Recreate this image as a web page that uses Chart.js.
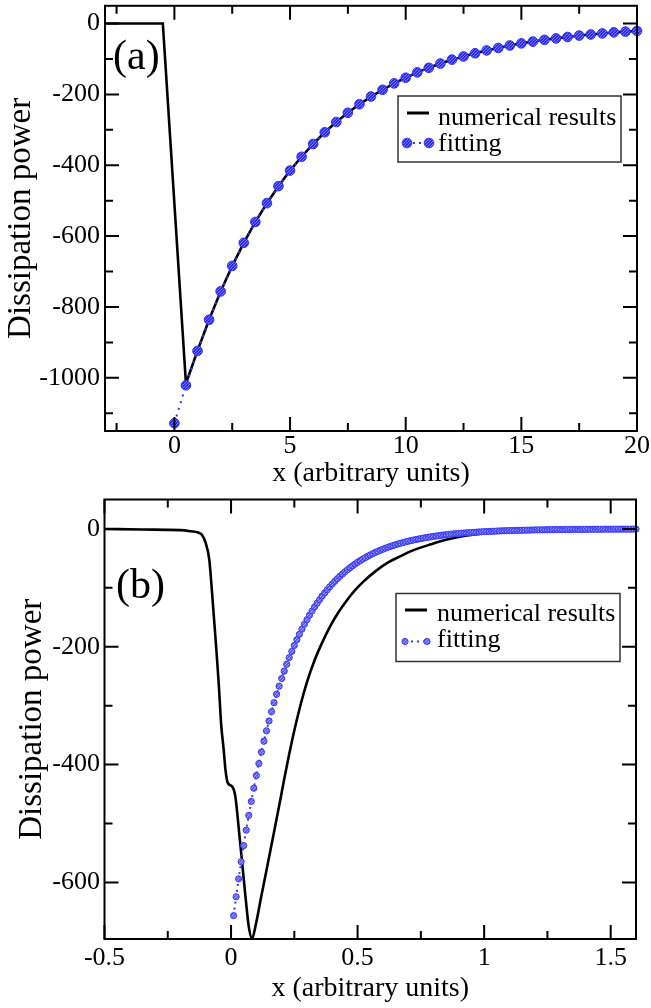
<!DOCTYPE html>
<html>
<head>
<meta charset="utf-8">
<script src="https://cdn.jsdelivr.net/npm/chart.js@4.4.1/dist/chart.umd.min.js"></script>
<style>
html,body{margin:0;padding:0;background:#fff;}
body{width:651px;height:1008px;position:relative;overflow:hidden;}
#wa{position:absolute;left:0;top:0;width:651px;height:490px;}
#wb{position:absolute;left:0;top:490px;width:651px;height:518px;}
</style>
</head>
<body>
<div id="wa"><canvas id="ca"></canvas></div>
<div id="wb"><canvas id="cb"></canvas></div>
<script>
// ---------- labels ----------
const numLabel = 'numerical results';
const fitLabel = 'fitting';
const xTitle = 'x (arbitrary units)';
const yTitle = 'Dissipation power';

// ---------- panel (a) ----------
const xTicksA = [0, 5, 10, 15, 20];
const xMinorA = [-2.5, 2.5, 7.5, 12.5, 17.5];
const yTicksA = [-1000, -800, -600, -400, -200, 0];
const yMinorA = [-1100, -900, -700, -500, -300, -100];

const xNumA = [-3, -0.5, 0.5, 1, 1.5, 2, 2.5, 3, 3.5, 4, 4.5, 5, 5.5, 6, 6.5, 7, 7.5, 8, 8.5, 9, 9.5, 10,
  10.5, 11, 11.5, 12, 12.5, 13, 13.5, 14, 14.5, 15, 15.5, 16, 16.5, 17, 17.5, 18, 18.5, 19, 19.5, 20];
const yNumA = [0, 0, -1016, -923, -836, -756, -684, -619, -560, -507, -459, -415, -376, -340, -307, -278, -252, -228, -206, -187, -169, -153,
  -138, -125, -113, -102, -93, -84, -76, -69, -62, -56, -51, -46, -42, -38, -34, -31, -28, -25, -23, -21];

const xFitA = [0, 0.5, 1, 1.5, 2, 2.5, 3, 3.5, 4, 4.5, 5, 5.5, 6, 6.5, 7, 7.5, 8, 8.5, 9, 9.5, 10,
  10.5, 11, 11.5, 12, 12.5, 13, 13.5, 14, 14.5, 15, 15.5, 16, 16.5, 17, 17.5, 18, 18.5, 19, 19.5, 20];
const yFitA = [-1128, -1021, -924, -836, -756, -684, -619, -560, -507, -459, -415, -376, -340, -307, -278, -252, -228, -206, -187, -169, -153,
  -138, -125, -113, -102, -93, -84, -76, -69, -62, -56, -51, -46, -42, -38, -34, -31, -28, -25, -23, -21];

// ---------- panel (b) ----------
const xTicksB = [-0.5, 0, 0.5, 1, 1.5];
const xMinorB = [-0.25, 0.25, 0.75, 1.25];
const yTicksB = [-600, -400, -200, 0];
const yMinorB = [-500, -300, -100];

const xNumB = [-0.5, -0.35, -0.2, -0.158, -0.13, -0.115, -0.1, -0.086, -0.077, -0.067, -0.057, -0.048, -0.039, -0.029, -0.022, -0.013,
  0.004, 0.017, 0.031, 0.044, 0.057, 0.07, 0.083, 0.099, 0.118, 0.143, 0.165, 0.19, 0.21, 0.228, 0.25, 0.275, 0.3, 0.33, 0.36,
  0.392, 0.425, 0.458, 0.49, 0.524, 0.57, 0.616, 0.67, 0.721, 0.79, 0.853, 0.92, 0.985, 1.05, 1.15, 1.3, 1.45, 1.6];
const yNumB = [0, -1, -2, -4, -6, -10, -24, -52, -97, -154, -211, -267, -332, -375, -409, -431,
  -437, -454, -511, -567, -624, -675, -695, -669, -627, -573, -525, -470, -425, -386, -342, -298, -260, -223, -193,
  -165, -141, -121, -104, -89, -72, -58, -46, -36, -26, -18, -12, -8, -5, -3, -1.5, -0.8, -0.5];

const xFitB = [0.01,0.02,0.03,0.04,0.05,0.06,0.07,0.08,0.09,0.10,0.11,0.12,0.13,0.14,0.15,0.16,0.17,0.18,0.19,0.20,
  0.21,0.22,0.23,0.24,0.25,0.26,0.27,0.28,0.29,0.30,0.31,0.32,0.33,0.34,0.35,0.36,0.37,0.38,0.39,0.40,
  0.41,0.42,0.43,0.44,0.45,0.46,0.47,0.48,0.49,0.50,0.51,0.52,0.53,0.54,0.55,0.56,0.57,0.58,0.59,0.60,
  0.61,0.62,0.63,0.64,0.65,0.66,0.67,0.68,0.69,0.70,0.71,0.72,0.73,0.74,0.75,0.76,0.77,0.78,0.79,0.80,
  0.81,0.82,0.83,0.84,0.85,0.86,0.87,0.88,0.89,0.90,0.91,0.92,0.93,0.94,0.95,0.96,0.97,0.98,0.99,1.00,
  1.01,1.02,1.03,1.04,1.05,1.06,1.07,1.08,1.09,1.10,1.11,1.12,1.13,1.14,1.15,1.16,1.17,1.18,1.19,1.20,
  1.21,1.22,1.23,1.24,1.25,1.26,1.27,1.28,1.29,1.30,1.31,1.32,1.33,1.34,1.35,1.36,1.37,1.38,1.39,1.40,
  1.41,1.42,1.43,1.44,1.45,1.46,1.47,1.48,1.49,1.50,1.51,1.52,1.53,1.54,1.55,1.56,1.57,1.58,1.59,1.60];
const yFitB = [-656.3,-624.3,-593.9,-564.9,-537.4,-511.2,-486.2,-462.5,-440.0,-418.5,-398.1,-378.7,-360.2,-342.6,-325.9,-310.0,-294.9,-280.5,-266.8,-253.8,
  -241.4,-229.7,-218.4,-207.8,-197.7,-188.0,-178.9,-170.1,-161.8,-153.9,-146.4,-139.3,-132.5,-126.0,-119.9,-114.0,-108.5,-103.2,-98.2,-93.4,
  -88.8,-84.5,-80.4,-76.5,-72.7,-69.2,-65.8,-62.6,-59.6,-56.6,-53.9,-51.3,-48.8,-46.4,-44.1,-42.0,-39.9,-38.0,-36.1,-34.4,
  -32.7,-31.1,-29.6,-28.2,-26.8,-25.5,-24.2,-23.1,-21.9,-20.9,-19.8,-18.9,-18.0,-17.1,-16.2,-15.5,-14.7,-14.0,-13.3,-12.6,
  -12.0,-11.4,-10.8,-10.3,-9.8,-9.3,-8.9,-8.4,-8.0,-7.6,-7.3,-6.9,-6.6,-6.3,-6.0,-5.7,-5.4,-5.1,-4.9,-4.6,
  -4.4,-4.2,-4.0,-3.8,-3.6,-3.4,-3.2,-3.1,-2.9,-2.8,-2.7,-2.5,-2.4,-2.3,-2.2,-2.1,-2.0,-1.9,-1.8,-1.7,
  -1.6,-1.5,-1.5,-1.4,-1.3,-1.3,-1.2,-1.1,-1.1,-1.0,-1.0,-0.9,-0.9,-0.8,-0.8,-0.8,-0.7,-0.7,-0.7,-0.6,
  -0.6,-0.6,-0.5,-0.5,-0.5,-0.5,-0.4,-0.4,-0.4,-0.4,-0.4,-0.3,-0.3,-0.3,-0.3,-0.3,-0.3,-0.3,-0.2,-0.2];

// ---------- helpers ----------
const FAM = '"Liberation Serif", "Times New Roman", serif';
function serif(size) { return size + 'px ' + FAM; }
function pts(xs, ys) { return xs.map((x, i) => ({ x: x, y: ys[i] })); }

function makePattern(base, light) {
  const pc = document.createElement('canvas');
  pc.width = 3; pc.height = 3;
  const g = pc.getContext('2d');
  g.fillStyle = base; g.fillRect(0, 0, 3, 3);
  g.fillStyle = light;
  g.fillRect(0, 0, 1, 1); g.fillRect(2, 1, 1, 1); g.fillRect(1, 2, 1, 1);
  return g.createPattern(pc, 'repeat');
}
const patA = makePattern('#2a2af8', '#8080ff');
const patB = makePattern('#5a5af2', '#a8a8ff');

const framePlugin = {
  id: 'frame',
  afterDraw(chart, args, o) {
    const ctx = chart.ctx, a = chart.chartArea;
    const sx = chart.scales.x, sy = chart.scales.y;
    ctx.save();
    ctx.strokeStyle = '#000';
    ctx.lineWidth = 2;
    ctx.beginPath();
    const xt = (vals, len) => vals.forEach(v => {
      const p = sx.getPixelForValue(v);
      ctx.moveTo(p, a.bottom); ctx.lineTo(p, a.bottom - len);
      ctx.moveTo(p, a.top); ctx.lineTo(p, a.top + len);
    });
    const yt = (vals, len) => vals.forEach(v => {
      const p = sy.getPixelForValue(v);
      ctx.moveTo(a.left, p); ctx.lineTo(a.left + len, p);
      ctx.moveTo(a.right, p); ctx.lineTo(a.right - len, p);
    });
    xt(o.xMajor, 14); xt(o.xMinor, 8);
    yt(o.yMajor, 14); yt(o.yMinor, 8);
    ctx.stroke();
    ctx.strokeRect(a.left, a.top, a.right - a.left, a.bottom - a.top);

    // panel label
    ctx.fillStyle = '#000';
    ctx.font = serif(42);
    ctx.textAlign = 'left';
    ctx.textBaseline = 'alphabetic';
    ctx.fillText(o.panel, o.panelX, o.panelY);

    // legend
    const L = o.legend;
    ctx.fillStyle = '#fff';
    ctx.fillRect(L.x, L.y, L.w, L.h);
    ctx.strokeStyle = '#333';
    ctx.lineWidth = 1.5;
    ctx.strokeRect(L.x, L.y, L.w, L.h);
    ctx.strokeStyle = '#000';
    ctx.lineWidth = 3;
    ctx.beginPath(); ctx.moveTo(L.s1, L.lineY); ctx.lineTo(L.s2, L.lineY); ctx.stroke();
    ctx.strokeStyle = o.fitColor;
    ctx.lineWidth = 2;
    ctx.setLineDash([2, 4]);
    ctx.beginPath(); ctx.moveTo(L.s1, L.markY); ctx.lineTo(L.s2, L.markY); ctx.stroke();
    ctx.setLineDash([]);
    [L.s1, L.s2].forEach(cx => {
      ctx.beginPath(); ctx.arc(cx, L.markY, L.r, 0, Math.PI * 2);
      ctx.fillStyle = o.fitPattern; ctx.fill();
      ctx.strokeStyle = o.fitColor; ctx.lineWidth = 1; ctx.stroke();
    });
    ctx.fillStyle = '#000';
    ctx.font = serif(26);
    ctx.fillText(numLabel, L.tx, L.b1);
    ctx.fillText(fitLabel, L.tx, L.b2);
    ctx.restore();
  }
};

function scales(xmin, xmax, xt, ymin, ymax, yt, cfg) {
  return {
    x: {
      type: 'linear', min: xmin, max: xmax,
      afterBuildTicks: s => { s.ticks = xt.map(v => ({ value: v })); },
      afterFit: s => { s.height = cfg.xh; s.paddingLeft = 0; s.paddingRight = 0; },
      grid: { display: false, drawTicks: false },
      border: { display: false },
      ticks: { color: '#000', font: { family: FAM, size: 26 }, padding: cfg.xpad, maxRotation: 0, minRotation: 0, autoSkip: false,
        callback: v => String(v) },
      title: { display: true, text: xTitle, color: '#000', font: { family: FAM, size: 28, lineHeight: 1 },
        padding: { top: 0, bottom: cfg.xtpad } }
    },
    y: {
      type: 'linear', min: ymin, max: ymax,
      afterBuildTicks: s => { s.ticks = yt.map(v => ({ value: v })); },
      afterFit: s => { s.width = cfg.yw; s.paddingTop = 0; s.paddingBottom = 0; },
      grid: { display: false, drawTicks: false },
      border: { display: false },
      ticks: { color: '#000', font: { family: FAM, size: 26 }, padding: cfg.ypad, autoSkip: false,
        callback: v => String(v) },
      title: { display: true, text: yTitle, color: '#000', font: { family: FAM, size: 33, lineHeight: 1 },
        padding: { top: cfg.ytpad, bottom: 0 } }
    }
  };
}

Chart.defaults.font.family = FAM;

new Chart(document.getElementById('ca'), {
  type: 'line',
  data: {
    datasets: [
      { label: fitLabel, data: pts(xFitA, yFitA), showLine: true, borderColor: '#3434ff', borderWidth: 2, borderDash: [2, 5],
        pointRadius: 4.8, pointBackgroundColor: patA, pointBorderColor: '#2a2aff', pointBorderWidth: 1, clip: 6 },
      { label: numLabel, data: pts(xNumA, yNumA), showLine: true, borderColor: '#000', borderWidth: 2.6,
        pointRadius: 0, tension: 0 }
    ]
  },
  options: {
    responsive: true, maintainAspectRatio: false, animation: false,
    layout: { padding: { top: 5, right: 14, left: 0, bottom: 0 } },
    scales: scales(-3, 20, xTicksA, -1150, 50, yTicksA, { xh: 59, yw: 105, xpad: 0, xtpad: 2, ypad: 5, ytpad: 4.5 }),
    plugins: {
      legend: { display: false }, tooltip: { enabled: false },
      frame: { xMajor: xTicksA, xMinor: xMinorA, yMajor: yTicksA, yMinor: yMinorA,
        panel: '(a)', panelX: 113, panelY: 69, fitColor: '#3434ff', fitPattern: patA,
        legend: { x: 398, y: 96, w: 223, h: 66, s1: 407, s2: 429, lineY: 113, markY: 143, r: 4.8, tx: 438, b1: 124.5, b2: 151 } }
    }
  },
  plugins: [framePlugin]
});

new Chart(document.getElementById('cb'), {
  type: 'line',
  data: {
    datasets: [
      { label: fitLabel, data: pts(xFitB, yFitB), showLine: true, borderColor: '#3a3aff', borderWidth: 2, borderDash: [2, 4],
        pointRadius: 3.1, pointBackgroundColor: patB, pointBorderColor: '#3535ff', pointBorderWidth: 1, clip: 4 },
      { label: numLabel, data: pts(xNumB, yNumB), showLine: true, borderColor: '#000', borderWidth: 2.6,
        pointRadius: 0, cubicInterpolationMode: 'monotone' }
    ]
  },
  options: {
    responsive: true, maintainAspectRatio: false, animation: false,
    layout: { padding: { top: 9.5, right: 15, left: 0, bottom: 0 } },
    scales: scales(-0.5, 1.6, xTicksB, -696, 50, yTicksB, { xh: 69, yw: 104.5, xpad: 4, xtpad: 5, ypad: 4.5, ytpad: 15.5 }),
    plugins: {
      legend: { display: false }, tooltip: { enabled: false },
      frame: { xMajor: xTicksB, xMinor: xMinorB, yMajor: yTicksB, yMinor: yMinorB,
        panel: '(b)', panelX: 116, panelY: 108, fitColor: '#3a3aff', fitPattern: patB,
        legend: { x: 396, y: 103.5, w: 224, h: 68, s1: 405, s2: 427, lineY: 120, markY: 151.5, r: 3.1, tx: 437, b1: 130.5, b2: 156.5 } }
    }
  },
  plugins: [framePlugin]
});
</script>
</body>
</html>
